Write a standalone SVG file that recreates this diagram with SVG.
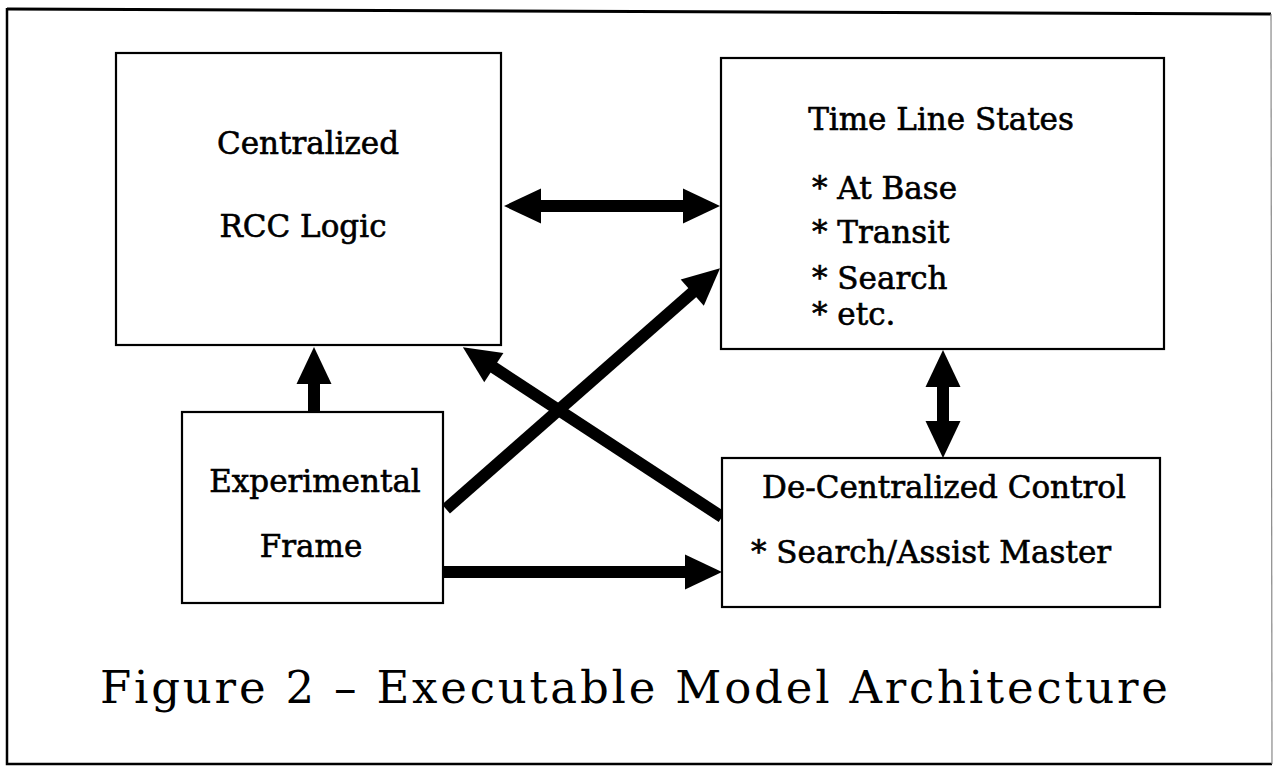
<svg xmlns="http://www.w3.org/2000/svg" width="1273" height="766" viewBox="0 0 1273 766">
  <style>
    .box { fill: #ffffff; stroke: #000000; stroke-width: 2.2; }
    .lbl { font-family: "DejaVu Serif", "Liberation Serif", serif; font-size: 31px; fill: #000000; stroke: #000000; stroke-width: 0.6; }
    .mid { text-anchor: middle; }
    .cap { font-family: "DejaVu Serif", "Liberation Serif", serif; font-size: 45px; fill: #000000; }
    .conn { stroke: #000000; stroke-width: 12; fill: none; stroke-linecap: butt; }
  </style>
  <defs>
    <marker id="head" markerUnits="userSpaceOnUse" markerWidth="40" markerHeight="36" refX="1" refY="17.5" orient="auto-start-reverse" overflow="visible">
      <path d="M0,0 L37,17.5 L0,35 Z" fill="#000000"/>
    </marker>
  </defs>
  <rect width="1273" height="766" fill="#ffffff"/>
  <g id="frame">
    <path d="M7,9 L1271,14" stroke="#000" stroke-width="3" fill="none"/>
    <path d="M7,8 L7,764 L1272,764" stroke="#000" stroke-width="2.5" fill="none"/>
    <path d="M1271,14 L1272,764" stroke="#888" stroke-width="1.2" fill="none"/>
  </g>
  <g id="connectors">
    <line class="conn" x1="540" y1="206" x2="684" y2="206" marker-start="url(#head)" marker-end="url(#head)"/>
    <line class="conn" x1="314" y1="412" x2="314" y2="383" marker-end="url(#head)"/>
    <line class="conn" x1="943" y1="386" x2="943" y2="422" marker-start="url(#head)" marker-end="url(#head)"/>
    <line class="conn" x1="443" y1="572" x2="686" y2="572" marker-end="url(#head)"/>
    <line class="conn" x1="446" y1="509" x2="693" y2="292" marker-end="url(#head)"/>
    <line class="conn" x1="722" y1="517" x2="493" y2="367" marker-end="url(#head)"/>
  </g>
  <g id="node-centralized">
    <rect class="box" x="116" y="53" width="385" height="292"/>
    <text class="lbl mid" x="308" y="154">Centralized</text>
    <text class="lbl mid" x="303" y="237">RCC Logic</text>
  </g>
  <g id="node-timeline">
    <rect class="box" x="721" y="58" width="443" height="291"/>
    <text class="lbl mid" x="941" y="130">Time Line States</text>
    <text class="lbl" x="812" y="199">* At Base</text>
    <text class="lbl" x="812" y="243">* Transit</text>
    <text class="lbl" x="812" y="289">* Search</text>
    <text class="lbl" x="812" y="325">* etc.</text>
  </g>
  <g id="node-experimental">
    <rect class="box" x="182" y="412" width="261" height="191"/>
    <text class="lbl mid" x="315" y="492">Experimental</text>
    <text class="lbl mid" x="311" y="557">Frame</text>
  </g>
  <g id="node-decentralized">
    <rect class="box" x="722" y="458" width="438" height="149"/>
    <text class="lbl mid" x="944" y="498">De-Centralized Control</text>
    <text class="lbl" x="751" y="563">* Search/Assist Master</text>
  </g>
  <g id="caption">
    <text class="cap" x="100" y="703" textLength="1068" lengthAdjust="spacing">Figure 2 – Executable Model Architecture</text>
  </g>
</svg>
